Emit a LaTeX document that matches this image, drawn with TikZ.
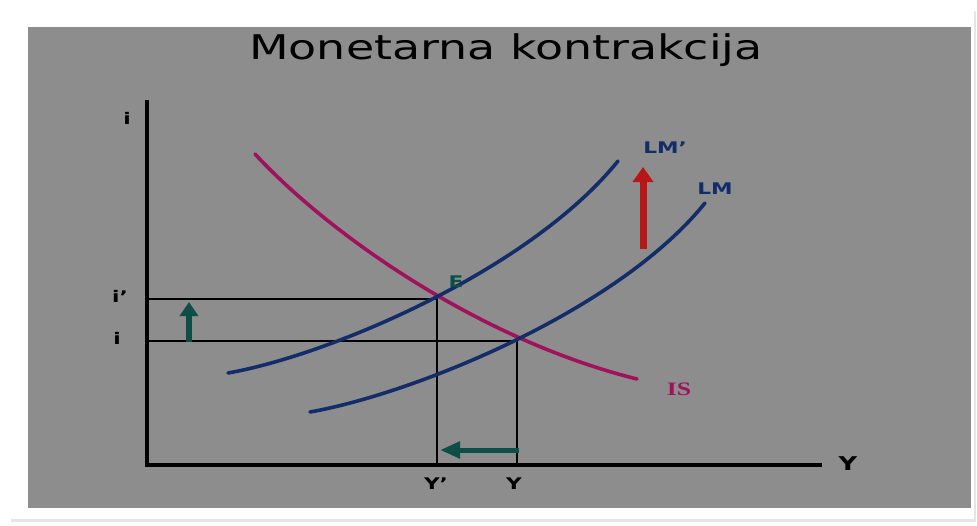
\documentclass[tikz,border=0pt]{standalone}
\usepackage{fontspec}
\setmainfont{DejaVu Sans}
\newfontfamily\labelserif{Liberation Serif}
\usetikzlibrary{arrows.meta,positioning}
\definecolor{panelgray}{RGB}{141,141,141}
\definecolor{lmblue}{RGB}{18,45,105}
\definecolor{ismagenta}{RGB}{160,18,92}
\definecolor{shiftteal}{RGB}{14,78,70}
\definecolor{shiftred}{RGB}{185,22,22}
\newcommand{\wide}[1]{\scalebox{1.35}[1]{#1}}

\begin{document}
\begin{tikzpicture}[
    x=1pt, y=-1pt,
    axis/.style={line width=4pt},
    guide/.style={line width=2.4pt},
    curve/.style={line width=3.6pt, line cap=round},
    lbl/.style={font=\bfseries\fontsize{16}{16}\selectfont, inner sep=0pt},
    shiftarrow/.style={-{Triangle[width=20pt,length=15pt]}, line width=6pt}
]
\useasboundingbox (0,0) rectangle (977,525);
% card and panel
\fill[black!10] (11,11) rectangle (976,522);
\fill[white] (9,8) rectangle (974,519);
\fill[panelgray] (28,27) rectangle (971,508);

\node[font=\fontsize{34}{34}\selectfont, inner sep=0pt] (title) at (506,50) {\wide{Monetarna kontrakcija}};

% axes
\coordinate (itop) at (147,100);
\coordinate (O) at (147,465);
\coordinate (xend) at (822,465);
\draw[axis] (itop) -- (O) -- (xend);

% equilibria
\coordinate (E1) at (437,299);
\coordinate (E0) at (517,341);
\coordinate (i1) at (149,299);
\coordinate (i0) at (149,341);
\coordinate (Y1) at (437,465);
\coordinate (Y0) at (517,465);
\draw[guide] (i1) -- (E1) -- (Y1);
\draw[guide] (i0) -- (E0) -- (Y0);

% curves
\draw[curve, ismagenta] (255,154) .. controls (330,235) and (480,340) .. (637,379);
\draw[curve, lmblue] (228,373) .. controls (330,355) and (530,270) .. (618,161);
\draw[curve, lmblue] (310,412) .. controls (412,394) and (617,312) .. (705,203);

% shifts
\coordinate (redfrom) at (643,249);
\coordinate (redto) at (643,167);
\draw[shiftarrow, shiftred, line width=7pt] (redfrom) -- (redto);
\coordinate (iupfrom) at (189,342);
\coordinate (iupto) at (189,302);
\draw[shiftarrow, shiftteal, -{Triangle[width=18pt,length=14pt]}] (iupfrom) -- (iupto);
\coordinate (yleftfrom) at (519,450);
\coordinate (yleftto) at (440,450);
\draw[shiftarrow, shiftteal, line width=5pt, -{Triangle[width=16pt,length=20pt]}] (yleftfrom) -- (yleftto);

% labels
\node[lbl, lmblue] (lmnew) at (665,148) {\wide{LM'}};
\node[lbl, lmblue] (lmold) at (715,189) {\wide{LM}};
\node[lbl, ismagenta, font=\labelserif\bfseries\fontsize{19}{19}\selectfont] (islab) at (679,389) {\wide{IS}};
\node[lbl, shiftteal] (elab) at (456,282) {\wide{E}};
\node[lbl] (iaxis) at (127,118) {\wide{i}};
\node[lbl] (ione) at (120,296) {\wide{i'}};
\node[lbl] (izero) at (117,338) {\wide{i}};
\node[lbl] (yone) at (436,484) {\wide{Y'}};
\node[lbl] (yzero) at (514,484) {\wide{Y}};
\node[lbl, font=\bfseries\fontsize{19}{19}\selectfont] (yaxis) at (848,464) {\wide{Y}};
\end{tikzpicture}
\end{document}
